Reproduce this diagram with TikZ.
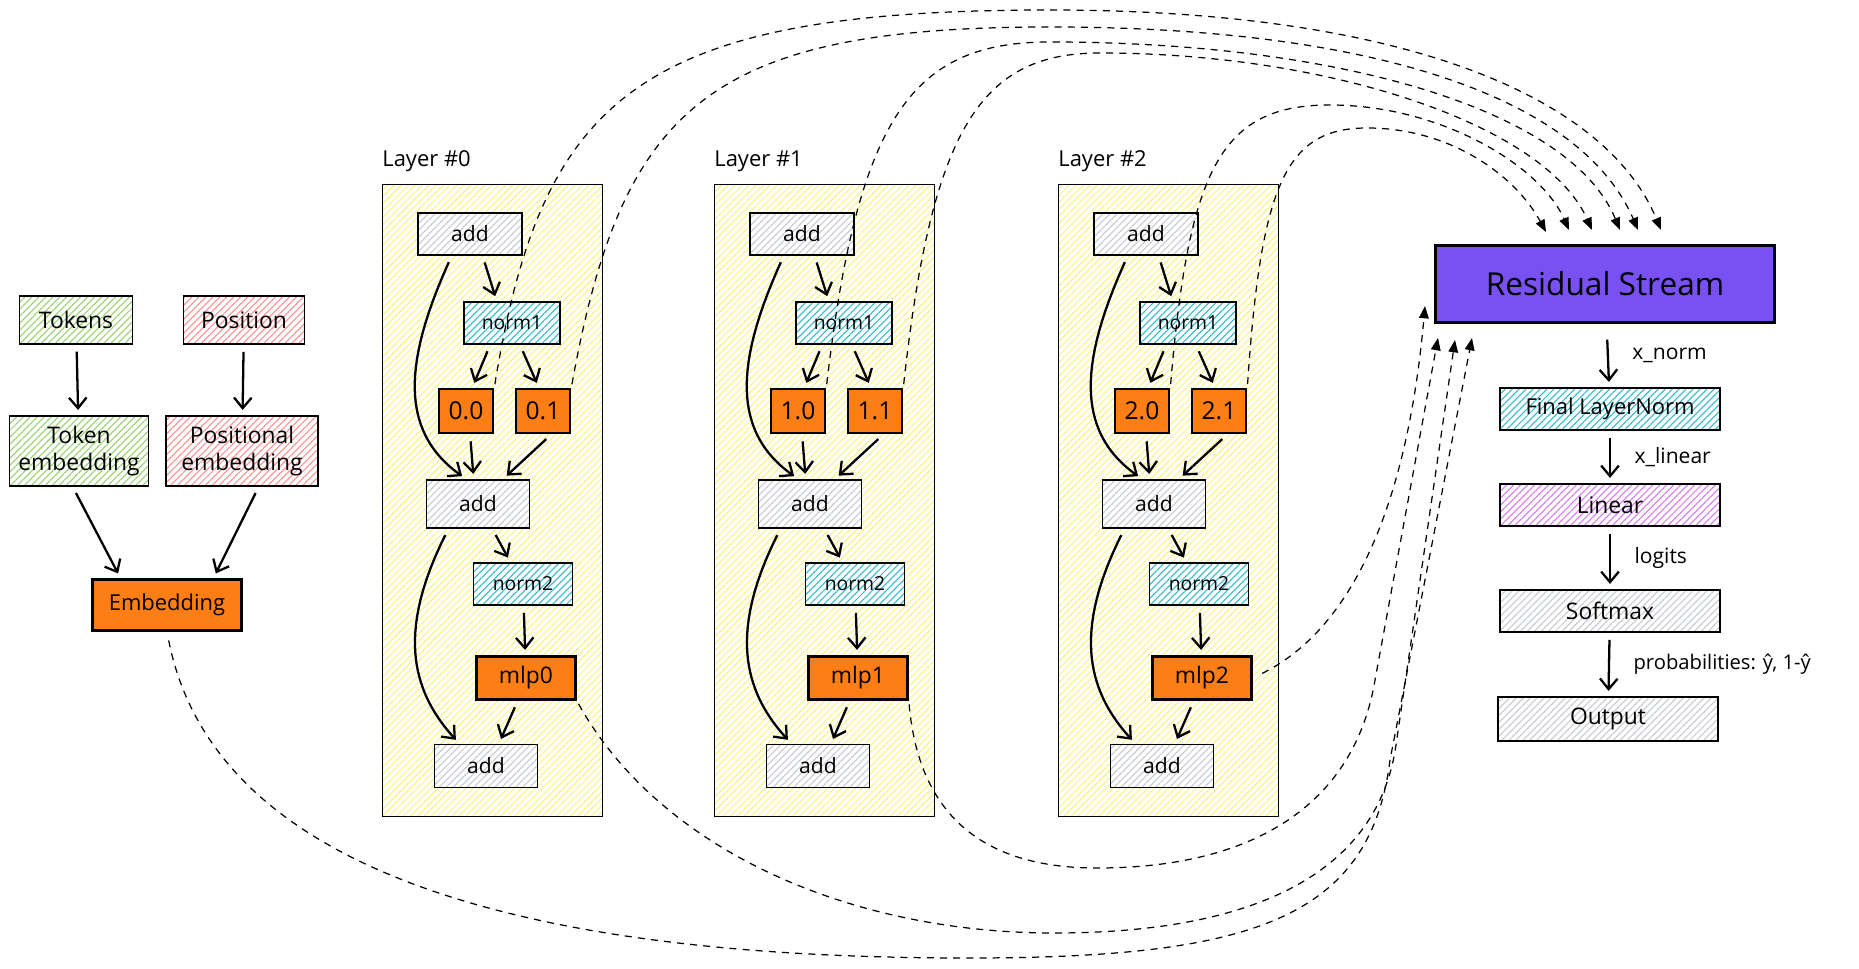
\documentclass[tikz,border=0pt]{standalone}
\usepackage{fontspec}
\setmainfont{Open Sans}
\usetikzlibrary{arrows.meta,patterns.meta}

\definecolor{exorange}{HTML}{FD7E14}
\definecolor{exviolet}{HTML}{7950F2}
\definecolor{hgreen}{HTML}{94D26B}
\definecolor{hred}{HTML}{FF8F8F}
\definecolor{hcyan}{HTML}{30B8CC}
\definecolor{hgrape}{HTML}{DA77F2}
\definecolor{hgray}{HTML}{C4CAD0}
\definecolor{hyellow}{HTML}{F8F27A}

\newcommand{\fsz}[2]{\fontsize{#1}{#2}\selectfont}

\tikzset{
  box/.style n args={2}{draw, line width=0.9pt, inner sep=0pt, align=center,
    minimum width=#1, minimum height=#2, font=\fsz{12}{15}},
  hatch/.style={preaction={fill=white},
    pattern={Lines[angle=45,distance=2.8pt,line width=0.6pt]}, pattern color=#1},
  orangebox/.style={fill=exorange, line width=1.5pt},
  headbox/.style={box={1.08cm}{0.88cm}, orangebox, font=\fsz{14}{16}},
  addbox/.style={hatch=hgray, font=\fsz{12}{14}},
  layerbox/.style={draw, line width=0.6pt, minimum width=4.4cm, minimum height=12.64cm,
    pattern={Lines[angle=45,distance=2.8pt,line width=0.55pt]}, pattern color=hyellow},
  arr/.style={line width=1.3pt, -{Straight Barb[length=6pt,width=10pt]},
    shorten <=4pt, shorten >=3pt},
  skip/.style={line width=0.7pt, dash pattern=on 4pt off 3.5pt,
    -{Triangle[length=7pt,width=5.5pt]}, shorten <=2pt},
  lbl/.style={anchor=west, xshift=10pt, font=\fsz{12}{14}}
}

\begin{document}
\begin{tikzpicture}[x=0.02cm, y=-0.02cm]
\useasboundingbox (0,0) rectangle (1859,969);

\node[box={2.26cm}{0.96cm}, hatch=hgreen, font=\fsz{13}{15}] (tok) at (76,320) {Tokens};
\node[box={2.42cm}{0.96cm}, hatch=hred, font=\fsz{13}{15}] (pos) at (244,320) {Position};
\node[box={2.78cm}{1.4cm}, hatch=hgreen, font=\fsz{13}{15}] (tokemb) at (79,451) {Token\\embedding};
\node[box={3.04cm}{1.4cm}, hatch=hred, font=\fsz{13}{15}] (posemb) at (242,451) {Positional\\embedding};
\node[box={2.98cm}{1.02cm}, orangebox, font=\fsz{12.5}{15}] (emb) at (167,605) {Embedding};
\draw[arr] (tok) -- (tokemb);
\draw[arr] (pos) -- (posemb);
\draw[arr] (tokemb.-100) -- (emb.150);
\draw[arr] (posemb.-65) -- (emb.30);

\foreach \i/\x in {0/382,1/714,2/1058}{
  \node[layerbox, anchor=north west] (layer\i) at (\x,184) {};
  \node[anchor=base west, inner sep=0pt, font=\fsz{12.5}{14}] at ([yshift=10pt]layer\i.north west) {Layer \#\i};
  \node[box={2.08cm}{0.84cm}, addbox] (addin\i) at (\x+88,234) {add};
  \node[box={1.92cm}{0.84cm}, hatch=hcyan, font=\fsz{11}{13}] (normA\i) at (\x+130,323) {norm1};
  \node[headbox] (head\i0) at (\x+84,411) {\i.0};
  \node[headbox] (head\i1) at (\x+161,411) {\i.1};
  \node[box={2.06cm}{0.96cm}, addbox] (addmid\i) at (\x+96,504) {add};
  \node[box={1.98cm}{0.84cm}, hatch=hcyan, font=\fsz{11}{13}] (normB\i) at (\x+141,584) {norm2};
  \node[box={1.98cm}{0.86cm}, orangebox, font=\fsz{13}{15}] (mlp\i) at (\x+144,678) {mlp\i};
  \node[box={2.06cm}{0.86cm}, addbox] (addout\i) at (\x+104,766) {add};
  \draw[arr] (addin\i.-60) -- (normA\i.125);
  \draw[arr] (normA\i.-135) -- (head\i0.75);
  \draw[arr] (normA\i.-70) -- (head\i1.100);
  \draw[arr] (head\i0.-80) -- (addmid\i.100);
  \draw[arr] (head\i1.-70) -- (addmid\i.45);
  \draw[arr] (addin\i.-130) .. controls +(-45,100) and +(-70,-50) .. (addmid\i.115);
  \draw[arr] (addmid\i.-60) -- (normB\i.120);
  \draw[arr] (normB\i) -- (mlp\i);
  \draw[arr] (mlp\i.-110) -- (addout\i.60);
  \draw[arr] (addmid\i.-140) .. controls +(-50,100) and +(-50,-55) .. (addout\i.140);
}

\node[box={6.78cm}{1.54cm}, fill=exviolet, line width=1.6pt, font=\fsz{18}{20}] (res) at (1605,284) {Residual Stream};
\node[box={4.4cm}{0.84cm}, hatch=hcyan, font=\fsz{12.5}{15}] (fln) at (1610,409) {Final LayerNorm};
\node[box={4.4cm}{0.84cm}, hatch=hgrape, font=\fsz{13}{15}] (lin) at (1610,505) {Linear};
\node[box={4.4cm}{0.84cm}, hatch=hgray, font=\fsz{13}{15}] (smax) at (1610,611) {Softmax};
\node[box={4.4cm}{0.88cm}, hatch=hgray, font=\fsz{13}{15}] (out) at (1608,719) {Output};
\draw[arr, shorten <=9pt] (res) -- node[lbl] {x\_norm} (fln);
\draw[arr] (fln) -- node[lbl] {x\_linear} (lin);
\draw[arr] (lin) -- node[lbl] {logits} (smax);
\draw[arr] (smax) -- node[lbl, font=\fsz{11.5}{13}] {probabilities: ŷ, 1-ŷ} (out);

\coordinate (top1) at (1546,232);
\coordinate (top2) at (1569,230);
\coordinate (top3) at (1592,230);
\coordinate (top4) at (1620,230);
\coordinate (top5) at (1638,230);
\coordinate (top6) at (1661,230);
\coordinate (low1) at (1425,306);
\coordinate (low2) at (1438,338);
\coordinate (low3) at (1455,340);
\coordinate (low4) at (1472,338);

\draw[skip] (head00.north east) .. controls (542,95) and (640,10) .. (1050,10) .. controls (1400,10) and (1605,95) .. (top6);
\draw[skip] (head01.north east) .. controls (622,107) and (708,27) .. (1050,27) .. controls (1380,27) and (1582,100) .. (top5);
\draw[skip] (head10.north east) .. controls (858,115) and (913,42) .. (1050,42) .. controls (1340,42) and (1570,110) .. (top4);
\draw[skip] (head11.north east) .. controls (932,126) and (982,53) .. (1100,53) .. controls (1330,53) and (1545,125) .. (top3);
\draw[skip] (head20.north east) .. controls (1189,168) and (1221,105) .. (1330,105) .. controls (1440,105) and (1540,165) .. (top2);
\draw[skip] (head21.north east) .. controls (1261,186) and (1285,128) .. (1367,128) .. controls (1450,128) and (1515,175) .. (top1);

\draw[skip, shorten <=5pt] (emb.south) .. controls (220,900) and (600,958) .. (968,958) .. controls (1250,958) and (1370,920) .. (1390,760) -- (low4);
\draw[skip] (mlp0.south east) .. controls (660,850) and (850,933) .. (1054,933) .. controls (1260,933) and (1378,870) .. (1396,745) -- (low3);
\draw[skip] (mlp1.south east) .. controls (920,830) and (1000,868) .. (1097,868) .. controls (1260,868) and (1355,800) .. (1375,680) -- (low2);
\draw[skip, shorten <=6pt] (mlp2.east) .. controls (1340,635) and (1405,530) .. (low1);
\end{tikzpicture}
\end{document}
